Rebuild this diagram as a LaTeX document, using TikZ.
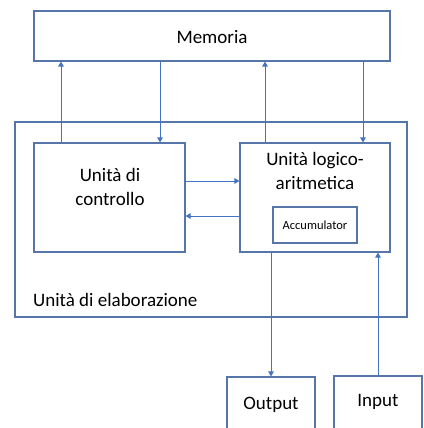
\documentclass[tikz,border=0pt]{standalone}
\usepackage{fontspec}
\setmainfont{Carlito}
\usetikzlibrary{arrows.meta}
\definecolor{lc}{HTML}{4472C4}
\definecolor{bc}{HTML}{5676AA}
\begin{document}
\begin{tikzpicture}[x=1pt,y=-1pt,
  box/.style={draw=bc,line width=1.1pt,rectangle,inner sep=0pt},
  arr/.style={draw=lc,line width=1pt,-{Triangle[length=5pt,width=5.5pt]}},
  txt/.style={font=\fontsize{19}{23.5}\selectfont,align=center,inner sep=0pt}]
\useasboundingbox (0,0) rectangle (423,428);
\clip (0,0) rectangle (423,428);
\node[box,minimum width=356pt,minimum height=50pt] (mem) at (212,36) {};
\node[txt] (memtxt) at (212,37) {Memoria};
\node[box,minimum width=392pt,minimum height=195pt] (outer) at (211,219.5) {};
\node[txt,anchor=west] (elab) at (33,300) {Unità di elaborazione};
\node[box,minimum width=151pt,minimum height=109pt] (ctrl) at (109.5,197.5) {};
\node[txt] (ctrltxt) at (110,187) {Unità di\\controllo};
\node[box,minimum width=150pt,minimum height=109pt] (alu) at (315,197.5) {};
\node[txt] (alutxt) at (315,171) {Unità logico-\\aritmetica};
\node[box,minimum width=84pt,minimum height=36pt,font=\fontsize{12.5}{14}\selectfont] (acc) at (315,225) {Accumulator};
\node[box,minimum width=88pt,minimum height=64pt] (out) at (271,409) {};
\node[txt] (outtxt) at (271,405) {Output};
\node[box,minimum width=88pt,minimum height=64pt] (in) at (378,408) {};
\node[txt] (intxt) at (378,402) {Input};
% arrows between Memoria and units
\draw[arr] (ctrl.north -| 61,0) -- (mem.south -| 61,0);
\draw[arr] (mem.south -| 160,0) -- (ctrl.north -| 160,0);
\draw[arr] (alu.north -| 265,0) -- (mem.south -| 265,0);
\draw[arr] (mem.south -| 363,0) -- (alu.north -| 363,0);
% control <-> ALU
\draw[arr] (ctrl.east |- 0,181) -- (alu.west |- 0,181);
\draw[arr] (alu.west |- 0,216) -- (ctrl.east |- 0,216);
% ALU <-> I/O
\draw[arr] (alu.south -| 271,0) -- (out.north -| 271,0);
\draw[arr] (in.north -| 378,0) -- (alu.south -| 378,0);
\end{tikzpicture}
\end{document}
